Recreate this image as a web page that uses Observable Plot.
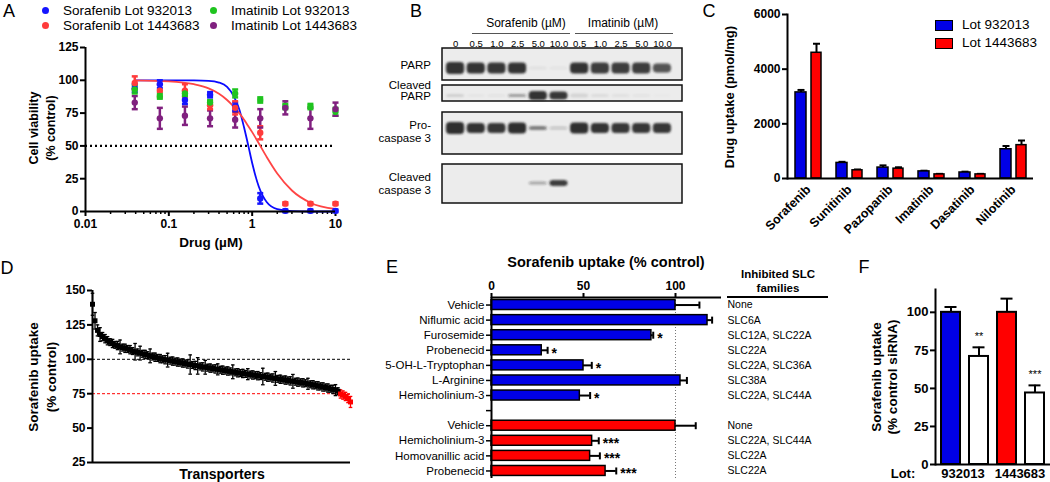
<!DOCTYPE html>
<html><head><meta charset="utf-8">
<script src="https://cdn.jsdelivr.net/npm/d3@7"></script>
<script src="https://cdn.jsdelivr.net/npm/@observablehq/plot@0.6"></script>
<style>
body{margin:0;background:#fff;}
#root{position:relative;width:1050px;height:482px;overflow:hidden;font-family:"Liberation Sans",Arial,sans-serif;color:#000;}
.p{position:absolute;}
.t{position:absolute;white-space:pre;color:#000;line-height:1.15;}
</style></head><body><div id="root"></div><script>
const FONT = '"Liberation Sans", Arial, sans-serif';
const BLUE = "#1515ff", RED = "#ff3b3b", GREEN = "#1fc41f", PURPLE = "#80207f";
const BAR_BLUE = "#0000e6", BAR_RED = "#ff0000";

// ---------- Panel A : cell viability ----------
const aConc = [0.039, 0.078, 0.156, 0.3125, 0.625, 1.25, 2.5, 5, 10];
const aSoraf932013 = [94, 97, 85, 89, 80, 10, 0.5, 0.5, 0.5];
const aSoraf932013Err = [3, 3, 3, 2, 3, 4, 1, 1, 1];
const aSoraf1443683 = [98, 92, 92, 81, 79, 60, 6, 6, 6];
const aSoraf1443683Err = [5, 5, 5, 3, 5, 5, 1, 1, 1];
const aImat932013 = [93, 88, 90, 83, 90, 85, 80, 80, 76];
const aImat932013Err = [3, 2, 2, 2, 3, 2, 2, 2, 3];
const aImat1443683 = [83, 71, 73, 71, 70, 71, 79, 71, 78];
const aImat1443683Err = [5, 8, 7, 6, 6, 7, 5, 8, 5];
const aCurveConc = [0.039, 0.1, 0.2, 0.3, 0.4, 0.5, 0.6, 0.7, 0.8, 0.9, 1, 1.2, 1.5, 2, 3, 5, 10];
const aCurve932013 = [100, 100, 99.9, 99.6, 98.3, 95, 88, 78, 64, 50, 37, 19, 7, 1.8, 0.3, 0, 0];
const aCurve1443683 = [99.9, 99.2, 97, 93.8, 89.7, 85, 80, 75, 70, 65, 60.5, 52, 41.4, 29, 16, 6.7, 1.9];
const aMajorTicks = [0.01, 0.1, 1, 10];
const aMinorTicks = [0.02,0.03,0.04,0.05,0.06,0.07,0.08,0.09,0.2,0.3,0.4,0.5,0.6,0.7,0.8,0.9,2,3,4,5,6,7,8,9];
const aYTicks = [0, 25, 50, 75, 100, 125];
const aSeriesNames = ["Sorafenib Lot 932013", "Sorafenib Lot 1443683", "Imatinib Lot 932013", "Imatinib Lot 1443683"];

// ---------- Panel B : western blot ----------
const bLanes = ["0", "0.5", "1.0", "2.5", "5.0", "10.0", "0.5", "1.0", "2.5", "5.0", "10.0"];
const bProteins = ["PARP", "Cleaved\nPARP", "Pro-\ncaspase 3", "Cleaved\ncaspase 3"];
const bPARP = [0.92, 0.92, 0.9, 0.92, 0.05, 0.04, 0.92, 0.88, 0.86, 0.88, 0.75];
const bCleavedPARP = [0.12, 0.04, 0.05, 0.4, 0.92, 0.9, 0.1, 0.07, 0.05, 0.05, 0.02];
const bProCasp3 = [0.94, 0.92, 0.9, 0.94, 0.55, 0.2, 0.94, 0.92, 0.9, 0.9, 0.9];
const bCleavedCasp3 = [0, 0, 0, 0, 0.35, 0.88, 0, 0, 0, 0, 0];

// ---------- Panel C : drug uptake ----------
const cDrugs = ["Sorafenib", "Sunitinib", "Pazopanib", "Imatinib", "Dasatinib", "Nilotinib"];
const cLot932013 = [3150, 570, 400, 260, 220, 1070];
const cLot932013Err = [90, 40, 80, 25, 30, 120];
const cLot1443683 = [4600, 300, 360, 150, 150, 1220];
const cLot1443683Err = [330, 30, 50, 20, 20, 170];
const cYTicks = [0, 2000, 4000, 6000];

// ---------- Panel D : transporter screen ----------
const dUptake = [140,128,121,118,116.5,115,113.5,112.5,111.5,110.5,
 110,109,108.5,108,107.5,107,106,105.5,105,104.5,
 104,103.5,103,102.5,102,101.5,101,100.5,100,99.7,
 99.4,99.0,98.7,98.3,98.0,97.6,97.3,96.9,96.6,96.2,
 95.9,95.5,95.2,94.8,94.5,94.2,93.9,93.6,93.3,93.0,
 92.7,92.4,92.1,91.8,91.5,91.2,90.9,90.5,90.2,90.0,
 89.7,89.4,89.2,88.9,88.6,88.4,88.1,87.8,87.5,87.3,
 87.0,86.7,86.4,86.1,85.8,85.5,85.2,84.9,84.6,84.3,
 84.0,83.7,83.4,83.2,82.9,82.6,82.2,81.8,81.5,81.1,
 80.7,80.3,79.9,79.5,79.1,78.6,78.1,77.6,76.8,74.8,
 74,73,71.5,69];
const dErr = [8,6,4,5,3,3,3,2.5,3,2.5,
 3,5,2.5,3,2.5,3,2.5,6,2.5,5,
 2.5,3,2.5,5,2.5,3,2.5,3,2.5,3,
 5,2.5,3,2.5,3,2.5,3,2.5,3,7,
 2.5,3,6,2.5,3,5,2.5,3,2.5,3,
 4,2.5,3,2.5,3,2.5,5,2.5,3,2.5,
 3,2.5,4,2.5,3,2.5,3,2.5,6,2.5,
 3,2.5,3,5,2.5,3,2.5,3,2.5,3,
 5,2.5,3,2.5,3,2.5,4,2.5,3,2.5,
 3,2.5,3,2.5,3,2.5,3,4,2.5,3,
 3,3,3,4];
const dHits = 5; // last transporters below the 75% threshold
const dYTicks = [25, 50, 75, 100, 125, 150];

// ---------- Panel E : inhibitors ----------
const eLabels = ["Vehicle", "Niflumic acid", "Furosemide", "Probenecid", "5-OH-L-Tryptophan", "L-Arginine", "Hemicholinium-3", "", "Vehicle", "Hemicholinium-3", "Homovanillic acid", "Probenecid"];
const eValues = [100, 117.4, 86.9, 27.3, 50, 102.7, 48, null, 100, 54.7, 53.6, 62];
const eErr = [13, 2.5, 1, 3.2, 4.5, 3.5, 5.6, null, 11, 3.6, 5.3, 5.8];
const eStars = ["", "", "*", "*", "*", "", "*", "", "", "***", "***", "***"];
const eSLC = ["None", "SLC6A", "SLC12A, SLC22A", "SLC22A", "SLC22A, SLC36A", "SLC38A", "SLC22A, SLC44A", "", "None", "SLC22A, SLC44A", "SLC22A", "SLC22A"];
const eLot = ["932013","932013","932013","932013","932013","932013","932013","","1443683","1443683","1443683","1443683"];
const eXTicks = [0, 50, 100];

// ---------- Panel F : siRNA ----------
const fConditions = ["932013 control siRNA", "932013 SLC siRNA", "1443683 control siRNA", "1443683 SLC siRNA"];
const fValues = [100, 71, 100, 47];
const fErr = [3.5, 6, 9, 5];
const fStars = ["", "**", "", "***"];
const fYTicks = [0, 25, 50, 75, 100];

// ================= helpers =================
const root = document.getElementById("root");
function place(svg, x, y, w) {
  const d = document.createElement("div");
  d.className = "p"; d.style.left = x + "px"; d.style.top = y + "px"; d.style.width = w + "px";
  svg.style.overflow = "visible"; svg.style.background = "transparent"; svg.style.maxWidth = "none";
  d.appendChild(svg); root.appendChild(d);
}
function txt(s, x, y, o = {}) {
  const d = document.createElement("div");
  d.className = "t"; d.textContent = s;
  d.style.left = x + "px"; d.style.top = y + "px";
  d.style.fontSize = (o.size || 12) + "px";
  d.style.fontWeight = o.weight || "normal";
  if (o.lh) d.style.lineHeight = o.lh + "px";
  const a = o.anchor || "middle";
  d.style.textAlign = a === "end" ? "right" : a === "start" ? "left" : "center";
  const tx = a === "end" ? "-100%" : a === "start" ? "0" : "-50%";
  d.style.transform = `translate(${tx},-50%)` + (o.rotate ? " rotate(-90deg)" : "");
  root.appendChild(d);
  return d;
}
function box(x, y, w, h, css) {
  const d = document.createElement("div");
  d.style.position = "absolute"; d.style.left = x + "px"; d.style.top = y + "px";
  d.style.width = w + "px"; d.style.height = h + "px"; d.style.boxSizing = "border-box";
  Object.assign(d.style, css); root.appendChild(d);
}
const capH = {draw(ctx, size) { const r = Math.sqrt(size / Math.PI); ctx.moveTo(-r, 0); ctx.lineTo(r, 0); }};
const capV = {draw(ctx, size) { const r = Math.sqrt(size / Math.PI); ctx.moveTo(0, -r); ctx.lineTo(0, r); }};
const baseStyle = {fontFamily: FONT, fontSize: "12px", fontWeight: "bold", color: "black", background: "transparent", overflow: "visible"};

// ================= Panel A =================
{
  const colors = [BLUE, RED, GREEN, PURPLE];
  const vals = [aSoraf932013, aSoraf1443683, aImat932013, aImat1443683];
  const errs = [aSoraf932013Err, aSoraf1443683Err, aImat932013Err, aImat1443683Err];
  const pts = vals.flatMap((v, s) => aConc.map((c, i) => ({c, v: v[i], e: errs[s][i], color: colors[s]})));
  const curves = [
    ...aCurveConc.map((c, i) => ({c, v: aCurve932013[i], lot: "932013"})),
    ...aCurveConc.map((c, i) => ({c, v: aCurve1443683[i], lot: "1443683"}))
  ];
  const svg = Plot.plot({
    width: 350, height: 255, marginLeft: 85, marginRight: 15, marginTop: 47, marginBottom: 44,
    style: baseStyle,
    x: {type: "log", domain: [0.01, 10]},
    y: {domain: [0, 125]},
    color: {type: "identity"},
    marks: [
      Plot.ruleY([50], {stroke: "#000", strokeWidth: 2.2, strokeDasharray: "2,3"}),
      Plot.axisY({ticks: aYTicks, tickSize: 5, tickPadding: 2, strokeWidth: 2, fontSize: 12, fontWeight: "bold", label: null}),
      Plot.axisX({ticks: aMajorTicks, tickFormat: d => String(d), tickSize: 5, tickPadding: 3, strokeWidth: 2, fontSize: 12, fontWeight: "bold", label: null}),
      Plot.axisX({ticks: aMinorTicks, tickFormat: () => "", tickSize: 3, strokeWidth: 1.5, label: null}),
      Plot.line(curves.filter(d => d.lot === "932013"), {x: "c", y: "v", stroke: "#0a0aff", strokeWidth: 1.8, curve: "monotone-x"}),
      Plot.line(curves.filter(d => d.lot === "1443683"), {x: "c", y: "v", stroke: "#ff4545", strokeWidth: 1.8, curve: "monotone-x"}),
      Plot.ruleX(pts, {x: "c", y1: d => d.v - d.e, y2: d => d.v + d.e, stroke: "color", strokeWidth: 2.5}),
      Plot.dot(pts, {x: "c", y: d => d.v + d.e, symbol: capH, r: 3, stroke: "color", strokeWidth: 2.5}),
      Plot.dot(pts, {x: "c", y: d => d.v - d.e, symbol: capH, r: 3, stroke: "color", strokeWidth: 2.5}),
      Plot.dot(pts, {x: "c", y: "v", r: 3.2, fill: "color", stroke: "none"}),
      Plot.ruleX([0.01], {stroke: "#000", strokeWidth: 2}),
      Plot.ruleY([0], {stroke: "#000", strokeWidth: 2})
    ]
  });
  place(svg, 0, 0, 350);
  txt("A", 9, 11, {size: 18, lh: 19});
  const lx = [45, 45, 213, 213], ly = [10, 25, 10, 25];
  aSeriesNames.forEach((n, i) => {
    box(lx[i] - 3.5, ly[i] - 3.5, 7, 7, {background: colors[i], borderRadius: "50%"});
    txt(n, lx[i] + 18, ly[i], {size: 13.5, anchor: "start", lh: 15});
  });
  txt("Cell viability\n(% control)", 43, 128, {size: 12.5, weight: "bold", rotate: true, lh: 17});
  txt("Drug (\u00b5M)", 211, 243, {size: 13.5, weight: "bold"});
}

// ================= Panel B =================
{
  const rowTop = [48, 85, 112, 164], rowBottom = [80, 101, 154, 203], rowBand = [68, 95.5, 128, 183];
  const rowH = [[12,11,11,11,3,3,11,11,11,11,9], [3,2,2,3,9,8,4,3,3,2,2], [12,10,10,11,4,3,11,10,10,10,10], [0,0,0,0,3,6,0,0,0,0,0]];
  const intens = [bPARP, bCleavedPARP, bProCasp3, bCleavedCasp3];
  const rows = bProteins.map((p, r) => ({p, top: rowTop[r], bottom: rowBottom[r]}));
  const bands = intens.flatMap((arr, r) => arr.map((v, i) => ({lane: i, v, c: rowBand[r], h: rowH[r][i]}))).filter(d => d.v > 0 && d.h > 0);
  const lanes = bLanes.map((l, i) => ({i, l}));
  const svg = Plot.plot({
    width: 330, height: 230, marginLeft: 72, marginRight: 18, marginTop: 0, marginBottom: 0,
    style: {...baseStyle, fontWeight: "normal"},
    x: {domain: [-0.63, 10.97], axis: null},
    y: {domain: [230, 0], axis: null},
    marks: [
      Plot.rect(rows, {x1: -0.63, x2: 10.97, y1: "top", y2: "bottom", fill: "#ececec", stroke: "#111", strokeWidth: 1.5}),
      Plot.rect(bands, {x1: d => d.lane - 0.44, x2: d => d.lane + 0.44, y1: d => d.c - d.h / 2, y2: d => d.c + d.h / 2, fill: "#222", fillOpacity: "v", rx: 4}),
      Plot.text(lanes, {x: "i", y: () => 43, text: "l", fontSize: 9.5})
    ]
  });
  const s = d3.select(svg);
  s.insert("defs", ":first-child").append("filter").attr("id", "blotblur").attr("x", "-20%").attr("y", "-60%").attr("width", "140%").attr("height", "220%")
    .append("feGaussianBlur").attr("stdDeviation", 1.1);
  const rg = svg.querySelectorAll('g[aria-label="rect"]');
  if (rg[1]) rg[1].setAttribute("filter", "url(#blotblur)");
  place(svg, 370, 0, 330);
  txt("B", 416, 11, {size: 18, lh: 19});
  txt("Sorafenib (\u00b5M)", 526, 24, {size: 12});
  txt("Imatinib (\u00b5M)", 623, 24, {size: 12});
  box(472, 33, 98, 1, {background: "#555"});
  box(575, 33, 98, 1, {background: "#555"});
  const ly = [65, 90.5, 131.5, 183.5], lh = [13, 11.5, 13, 13];
  bProteins.forEach((p, i) => txt(p, 431, ly[i], {size: 11.5, anchor: "end", lh: lh[i]}));
}

// ================= Panel C =================
{
  const d1 = cDrugs.map((d, i) => ({d, v: cLot932013[i], e: cLot932013Err[i]}));
  const d2 = cDrugs.map((d, i) => ({d, v: cLot1443683[i], e: cLot1443683Err[i]}));
  const svg = Plot.plot({
    width: 350, height: 230, marginLeft: 87, marginRight: 17, marginTop: 14, marginBottom: 52,
    style: baseStyle,
    x: {domain: cDrugs, paddingInner: 0.366, paddingOuter: 0.183},
    y: {domain: [0, 6000]},
    marks: [
      Plot.ruleX(d1, {x: "d", y1: "v", y2: d => d.v + d.e, dx: -7.5, strokeWidth: 2}),
      Plot.dot(d1, {x: "d", y: d => d.v + d.e, dx: -7.5, symbol: capH, r: 3.5, stroke: "#000", strokeWidth: 2}),
      Plot.ruleX(d2, {x: "d", y1: "v", y2: d => d.v + d.e, dx: 8, strokeWidth: 2}),
      Plot.dot(d2, {x: "d", y: d => d.v + d.e, dx: 8, symbol: capH, r: 3.5, stroke: "#000", strokeWidth: 2}),
      Plot.barY(d1, {x: "d", y: "v", insetRight: 15, fill: BAR_BLUE, stroke: "#000", strokeWidth: 1.5}),
      Plot.barY(d2, {x: "d", y: "v", insetLeft: 16, fill: BAR_RED, stroke: "#000", strokeWidth: 1.5}),
      Plot.axisY({ticks: cYTicks, tickFormat: d => String(d), tickSize: 5, tickPadding: 2, strokeWidth: 2, fontSize: 12, fontWeight: "bold", label: null}),
      Plot.axisX({tickRotate: -45, tickSize: 0, tickPadding: 9, fontSize: 12.5, fontWeight: "bold", label: null}),
      Plot.frame({anchor: "left", strokeWidth: 2}),
      Plot.ruleY([0], {strokeWidth: 2})
    ]
  });
  place(svg, 700, 0, 350);
  txt("C", 709, 11, {size: 18, lh: 19});
  txt("Drug uptake (pmol/mg)", 730, 97, {size: 13, weight: "bold", rotate: true});
  box(935, 20, 18, 11, {background: BAR_BLUE, border: "1.5px solid #000"});
  box(935, 38, 18, 11, {background: BAR_RED, border: "1.5px solid #000"});
  txt("Lot 932013", 962, 25, {size: 13.5, anchor: "start"});
  txt("Lot 1443683", 962, 43, {size: 13.5, anchor: "start"});
}

// ================= Panel D =================
{
  const pts = dUptake.map((v, i) => ({i, v, e: dErr[i], color: i >= dUptake.length - dHits ? "#ff0000" : "#000"}));
  const svg = Plot.plot({
    width: 360, height: 227, marginLeft: 92, marginRight: 10, marginTop: 35, marginBottom: 20,
    style: baseStyle,
    x: {domain: [0, dUptake.length - 1], axis: null},
    y: {domain: [25, 150]},
    color: {type: "identity"},
    marks: [
      Plot.ruleY([100], {stroke: "#000", strokeWidth: 1, strokeDasharray: "3,2"}),
      Plot.ruleY([75], {stroke: "#ff0000", strokeWidth: 1, strokeDasharray: "3,2"}),
      Plot.ruleX(pts, {x: "i", y1: d => d.v - d.e, y2: d => d.v + d.e, stroke: "color", strokeWidth: 1.3}),
      Plot.dot(pts, {x: "i", y: d => d.v + d.e, symbol: capH, r: 1.8, stroke: "color", strokeWidth: 1.3}),
      Plot.dot(pts, {x: "i", y: d => d.v - d.e, symbol: capH, r: 1.8, stroke: "color", strokeWidth: 1.3}),
      Plot.dot(pts, {x: "i", y: "v", symbol: "square", r: 2.8, fill: "color", stroke: "none"}),
      Plot.axisY({ticks: dYTicks, tickSize: 5, tickPadding: 2, strokeWidth: 2, fontSize: 12, fontWeight: "bold", label: null}),
      Plot.ruleX([0], {strokeWidth: 2}),
      Plot.ruleY([25], {strokeWidth: 2})
    ]
  });
  place(svg, 0, 255, 360);
  txt("D", 7, 268, {size: 18, lh: 19});
  txt("Sorafenib uptake\n(% control)", 43, 377, {size: 13.5, weight: "bold", rotate: true, lh: 18});
  txt("Transporters", 222, 474, {size: 14, weight: "bold", lh: 14});
}

// ================= Panel E =================
{
  const rows = eLabels.map((l, i) => ({i, l, v: eValues[i], e: eErr[i], s: eStars[i], slc: eSLC[i], fill: eLot[i] === "932013" ? BAR_BLUE : BAR_RED}));
  const bars = rows.filter(d => d.v != null);
  const svg = Plot.plot({
    width: 460, height: 242, marginLeft: 111, marginRight: 119, marginTop: 58, marginBottom: 3,
    style: baseStyle,
    x: {domain: [0, 125]},
    y: {domain: [11.5, -0.5]},
    color: {type: "identity"},
    marks: [
      Plot.ruleX([100], {stroke: "#777", strokeWidth: 1, strokeDasharray: "1,2"}),
      Plot.ruleY(bars, {y: "i", x1: "v", x2: d => d.v + d.e, strokeWidth: 2}),
      Plot.dot(bars, {x: d => d.v + d.e, y: "i", symbol: capV, r: 3.5, stroke: "#000", strokeWidth: 2}),
      Plot.rectX(bars, {x1: 0, x2: "v", y1: d => d.i - 0.33, y2: d => d.i + 0.33, fill: "fill", stroke: "#000", strokeWidth: 1.5}),
      Plot.text(bars, {x: d => d.v + d.e, y: "i", text: "s", dx: 4, dy: 3, textAnchor: "start", fontSize: 14, fontWeight: "bold"}),
      Plot.text(rows, {y: "i", text: "slc", frameAnchor: "right", dx: 6, textAnchor: "start", fontSize: 10.5, fontWeight: "normal"}),
      Plot.axisX({anchor: "top", ticks: eXTicks, tickSize: 5, tickPadding: 3, strokeWidth: 2, fontSize: 12, fontWeight: "bold", label: null}),
      Plot.axisY({ticks: rows.map(d => d.i), tickFormat: i => eLabels[i], tickSize: 5, tickPadding: 2, strokeWidth: 1.5, fontSize: 11.5, fontWeight: "normal", label: null}),
      Plot.ruleY([-0.5], {strokeWidth: 2}),
      Plot.ruleX([0], {strokeWidth: 2})
    ]
  });
  place(svg, 380, 239, 460);
  txt("E", 392, 267, {size: 18, lh: 19});
  txt("Sorafenib uptake (% control)", 606, 262, {size: 14.5, weight: "bold"});
  txt("Inhibited SLC\nfamilies", 778, 281, {size: 11.5, weight: "bold", lh: 14});
  box(727, 296, 101, 2, {background: "#000"});
}

// ================= Panel F =================
{
  const rows = fConditions.map((k, i) => ({k, v: fValues[i], e: fErr[i], s: fStars[i], fill: i === 0 ? BAR_BLUE : i === 2 ? BAR_RED : "#fff"}));
  const svg = Plot.plot({
    width: 210, height: 242, marginLeft: 95, marginRight: 0, marginTop: 49, marginBottom: 18,
    style: baseStyle,
    x: {domain: fConditions, paddingInner: 0.338, paddingOuter: 0.174, axis: null},
    y: {domain: [0, 115]},
    color: {type: "identity"},
    marks: [
      Plot.ruleX(rows, {x: "k", y1: "v", y2: d => d.v + d.e, strokeWidth: 2}),
      Plot.tickY(rows, {x: "k", y: d => d.v + d.e, strokeWidth: 2, insetLeft: 3.5, insetRight: 3.5}),
      Plot.barY(rows, {x: "k", y: "v", fill: "fill", stroke: "#000", strokeWidth: 2}),
      Plot.text(rows, {x: "k", y: d => d.v + d.e, text: "s", dy: -11, fontSize: 11, fontWeight: "normal"}),
      Plot.axisY({ticks: fYTicks, tickSize: 5, tickPadding: 2, strokeWidth: 2, fontSize: 13, fontWeight: "bold", label: null}),
      Plot.frame({anchor: "left", strokeWidth: 2}),
      Plot.ruleY([0], {strokeWidth: 2})
    ]
  });
  place(svg, 840, 240, 210);
  txt("F", 864, 267, {size: 18, lh: 19});
  txt("Sorafenib uptake\n(% control siRNA)", 885, 377, {size: 13.5, weight: "bold", rotate: true, lh: 16});
  txt("Lot:", 903, 474, {size: 13, weight: "bold", lh: 14});
  txt("932013", 963, 474, {size: 13, weight: "bold", lh: 14});
  txt("1443683", 1020, 474, {size: 13, weight: "bold", lh: 14});
}
</script></body></html>
